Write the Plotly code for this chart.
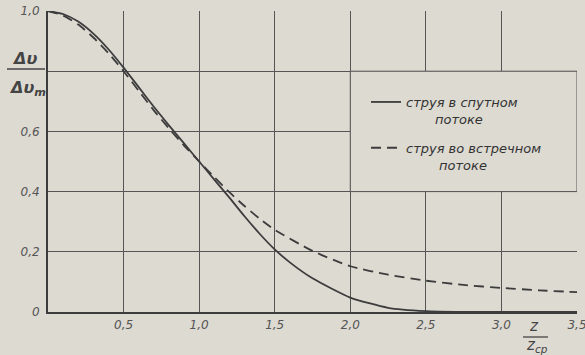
import plotly.graph_objects as go

# ---- data ----
z_solid = [0, 0.1, 0.2, 0.3, 0.4, 0.5, 0.6, 0.7, 0.8, 0.9, 1.0, 1.1, 1.2, 1.3, 1.4, 1.5,
           1.6, 1.75, 2.0, 2.25, 2.5, 2.75, 3.0, 3.5]
v_solid = [1.0, 0.99, 0.965, 0.925, 0.873, 0.812, 0.747, 0.682, 0.62, 0.56, 0.5, 0.44, 0.38, 0.318, 0.26, 0.208,
           0.165, 0.112, 0.048, 0.014, 0.003, 0.0005, 0.0, 0.0]

z_dash = [0, 0.1, 0.2, 0.3, 0.4, 0.5, 0.6, 0.7, 0.8, 0.9, 1.0, 1.1, 1.2, 1.3, 1.4, 1.5,
          1.75, 2.0, 2.25, 2.5, 2.75, 3.0, 3.25, 3.5]
v_dash = [1.0, 0.985, 0.955, 0.912, 0.86, 0.8, 0.735, 0.67, 0.61, 0.553, 0.5, 0.448, 0.398, 0.352, 0.31, 0.273,
          0.203, 0.152, 0.124, 0.104, 0.09, 0.08, 0.072, 0.066]

x_ticks = [0, 0.5, 1.0, 1.5, 2.0, 2.5, 3.0, 3.5]
x_ticktext = ["", "0,5", "1,0", "1,5", "2,0", "2,5", "3,0", "3,5"]
y_ticks = [0, 0.2, 0.4, 0.6, 0.8, 1.0]
y_ticktext = ["0", "0,2", "0,4", "0,6", "", "1,0"]

name_solid = "струя в спутном<br>" + "\u00a0" * 7 + "потоке"
name_dash = "струя во встречном<br>" + "\u00a0" * 8 + "потоке"

BG = "#dddad2"
INK = "#3c3c3c"
GRID = "#555555"
FONT = "DejaVu Sans"

W, H = 585, 355
ML, MR, MT, MB = 48, 8, 11, 43
PW, PH = W - ML - MR, H - MT - MB


def px(xp):
    return (xp - ML) / PW


def py(yp):
    return (H - MB - yp) / PH


fig = go.Figure()
fig.add_trace(go.Scatter(
    x=z_solid, y=v_solid, mode="lines", name=name_solid, legendgroup="a",
    line=dict(color=INK, width=1.8, shape="spline", smoothing=0.6),
))
fig.add_trace(go.Scatter(
    x=z_dash, y=v_dash, mode="lines", name=name_dash, legendgroup="b",
    line=dict(color=INK, width=1.8, dash="10px,6px", shape="spline", smoothing=0.6),
))

# legend area: gridlines are interrupted there
fig.add_shape(type="rect", x0=2.0, x1=3.5, y0=0.4, y1=0.8, xref="x", yref="y",
              fillcolor=BG, line=dict(color=GRID, width=1), layer="between")

ann_font_y = dict(family=FONT, size=16, color="#444", style="italic")
ann_font_x = dict(family=FONT, size=15, color="#444", style="italic")

# y-axis title as a fraction
fig.add_annotation(x=px(24), y=py(58), xref="paper", yref="paper", text="<b>Δυ</b>",
                   xanchor="center", yanchor="middle", showarrow=False, font=ann_font_y)
fig.add_shape(type="line", xref="paper", yref="paper", x0=px(7), x1=px(45), y0=py(69), y1=py(69),
              line=dict(color="#444", width=1.5))
fig.add_annotation(x=px(27), y=py(88), xref="paper", yref="paper", text="<b>Δυ<sub>m</sub></b>",
                   xanchor="center", yanchor="middle", showarrow=False, font=ann_font_y)

# x-axis title as a fraction
fig.add_annotation(x=px(534), y=py(326), xref="paper", yref="paper", text="z",
                   xanchor="center", yanchor="middle", showarrow=False, font=ann_font_x)
fig.add_shape(type="line", xref="paper", yref="paper", x0=px(523), x1=px(548), y0=py(337), y1=py(337),
              line=dict(color="#444", width=1.3))
fig.add_annotation(x=px(537), y=py(345), xref="paper", yref="paper", text="z<sub>cp</sub>",
                   xanchor="center", yanchor="middle", showarrow=False, font=ann_font_x)

fig.update_xaxes(range=[0, 3.5], tickvals=x_ticks, ticktext=x_ticktext, automargin=False,
                 showgrid=True, gridcolor=GRID, gridwidth=1,
                 showline=True, linecolor=INK, linewidth=2, mirror=False,
                 zeroline=False, ticks="", ticklabelstandoff=1, ticklabeloverflow="allow",
                 tickfont=dict(family=FONT, size=12, color="#555", style="italic"))
fig.update_yaxes(range=[0, 1.0], tickvals=y_ticks, ticktext=y_ticktext, automargin=False,
                 showgrid=True, gridcolor=GRID, gridwidth=1,
                 showline=True, linecolor=INK, linewidth=2, mirror=False,
                 zeroline=False, ticks="", ticklabelstandoff=4, ticklabeloverflow="allow",
                 tickfont=dict(family=FONT, size=12, color="#555", style="italic"))

fig.update_layout(
    width=W, height=H,
    margin=dict(l=ML, r=MR, t=MT, b=MB, pad=0, autoexpand=False),
    paper_bgcolor=BG, plot_bgcolor=BG,
    showlegend=True,
    legend=dict(x=px(366), y=py(87), xanchor="left", yanchor="top",
                bgcolor="rgba(0,0,0,0)", borderwidth=0,
                font=dict(family=FONT, size=13, color="#333", style="italic"),
                valign="top", tracegroupgap=9, itemwidth=30),
)

fig.write_html("out.html", config={"displayModeBar": False},
               post_script="document.body.style.margin='0';document.body.style.overflow='hidden';")
